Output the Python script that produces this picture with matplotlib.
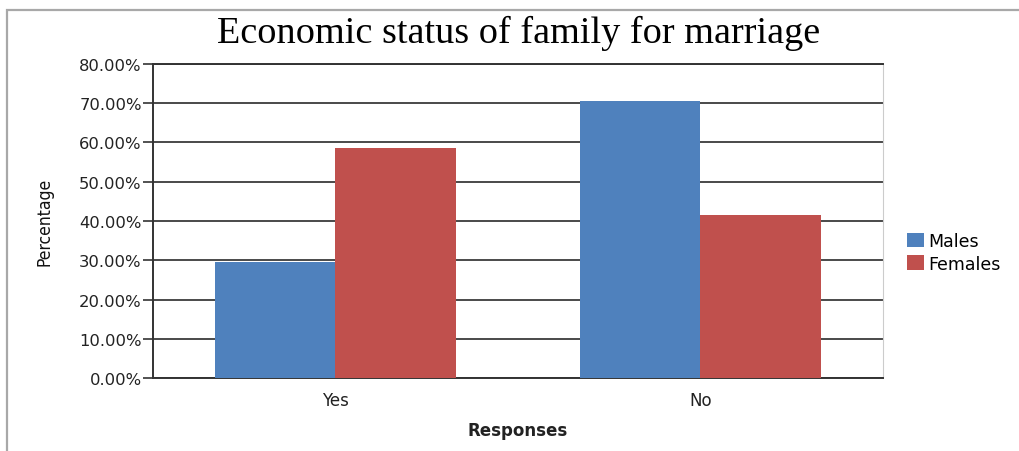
import matplotlib.pyplot as plt
import matplotlib.patches as mpatches
from matplotlib.ticker import FuncFormatter
import numpy as np

categories = ["Yes", "No"]
males = [29.5, 70.5]
females = [58.5, 41.5]

blue = "#4F81BD"
red = "#C0504D"

fig = plt.figure(figsize=(10.19, 4.52), dpi=100)
ax = fig.add_axes([0.150, 0.1615, 0.7165, 0.6947])

x = np.arange(len(categories))
w = 0.33
ax.bar(x - w / 2, males, w, color=blue, label="Males", zorder=3)
ax.bar(x + w / 2, females, w, color=red, label="Females", zorder=3)

ax.set_xlim(-0.5, 1.5)
ax.set_ylim(0, 80)
ax.set_yticks(np.arange(0, 81, 10))
ax.yaxis.set_major_formatter(FuncFormatter(lambda v, p: "%.2f%%" % v))
ax.set_xticks(x)
ax.set_xticklabels(categories)
ax.tick_params(axis="x", length=0, pad=9, labelsize=12, colors="#222222")
ax.tick_params(axis="y", length=7, width=1.2, color="#333333", labelsize=11.8,
               labelcolor="#222222", pad=1)
ax.grid(axis="y", color="#4a4a4a", linewidth=1.4, zorder=0)

for s in ["left", "bottom", "top"]:
    ax.spines[s].set_color("#333333")
    ax.spines[s].set_linewidth(1.4)
ax.spines["right"].set_color("#cccccc")

ax.set_xlabel("Responses", fontweight="bold", fontsize=12, labelpad=9, color="#222222")
ax.set_ylabel("Percentage", fontsize=12.5, color="#111111", fontstretch="condensed")
ax.yaxis.set_label_coords(-0.136, 0.5)

fig.text(0.509, 0.925, "Economic status of family for marriage", ha="center", va="center",
         fontsize=27.5, family="Liberation Serif")

ax.legend(loc="center left", bbox_to_anchor=(1.023, 0.40), frameon=False, fontsize=12.5,
          handlelength=1.0, handleheight=0.9, handletextpad=0.25, labelspacing=0.25,
          borderaxespad=0)

fig.patches.append(mpatches.Rectangle((0.0068, -0.1), 1.5, 1.075, transform=fig.transFigure,
                                      fill=False, edgecolor="#a8a8a8", linewidth=1.6))

fig.savefig("out.png", dpi=100)
